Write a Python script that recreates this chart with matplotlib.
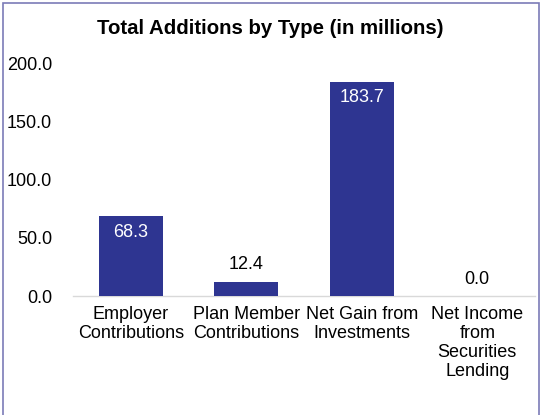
import matplotlib
matplotlib.use("Agg")
import matplotlib.pyplot as plt
from matplotlib.patches import Rectangle

plt.rcParams['font.family'] = ['Liberation Sans', 'DejaVu Sans']

# additions by type, in millions
categories = ["Employer\nContributions", "Plan Member\nContributions",
              "Net Gain from\nInvestments", "Net Income\nfrom\nSecurities\nLending"]
values = [68.3, 12.4, 183.7, 0.0]
y_ticks = [0, 50, 100, 150, 200]

bar_color = "#2E3591"
fs = 13

fig = plt.figure(figsize=(5.41, 4.15), dpi=100)
W, H = 541, 415
ax = fig.add_axes([73 / W, 1 - 296 / H, 462 / W, 233 / H])

x = list(range(len(values)))
bars = ax.bar(x, values, width=0.555, color=bar_color, zorder=3)

ax.set_xlim(-0.5, len(values) - 0.5)
ax.set_ylim(0, 200)
ax.set_yticks(y_ticks)
ax.set_yticklabels([f"{t:.1f}" for t in y_ticks], fontsize=fs)
ax.set_xticks(x)
ax.set_xticklabels(categories, fontsize=fs, linespacing=1.15, va="top")
ax.tick_params(axis="both", length=0, colors="black")
ax.tick_params(axis="y", pad=15)
ax.tick_params(axis="x", pad=7)

for s in ["top", "right", "left"]:
    ax.spines[s].set_visible(False)
ax.spines["bottom"].set_color("#D9D9D9")
ax.spines["bottom"].set_linewidth(1.0)

# big bars carry their label inside, small ones above
for b, v in zip(bars, values):
    cx = b.get_x() + b.get_width() / 2
    if v > 40:
        ax.annotate(f"{v:.1f}", (cx, v), xytext=(0, -16), textcoords="offset pixels",
                    ha="center", va="center", color="white", fontsize=fs)
    else:
        ax.annotate(f"{v:.1f}", (cx, v), xytext=(0, 17), textcoords="offset pixels",
                    ha="center", va="center", color="black", fontsize=fs)

fig.text(0.5, 1 - 28 / H, "Total Additions by Type (in millions)", ha="center", va="center",
         fontsize=14.7, fontweight="bold")

# outer frame
fig.add_artist(Rectangle((3 / W, -0.1), 536 / W, 1.1 - 3 / H, transform=fig.transFigure,
                         fill=False, edgecolor="#7B7BB8", linewidth=1.2))

fig.savefig("out.png", dpi=100)
